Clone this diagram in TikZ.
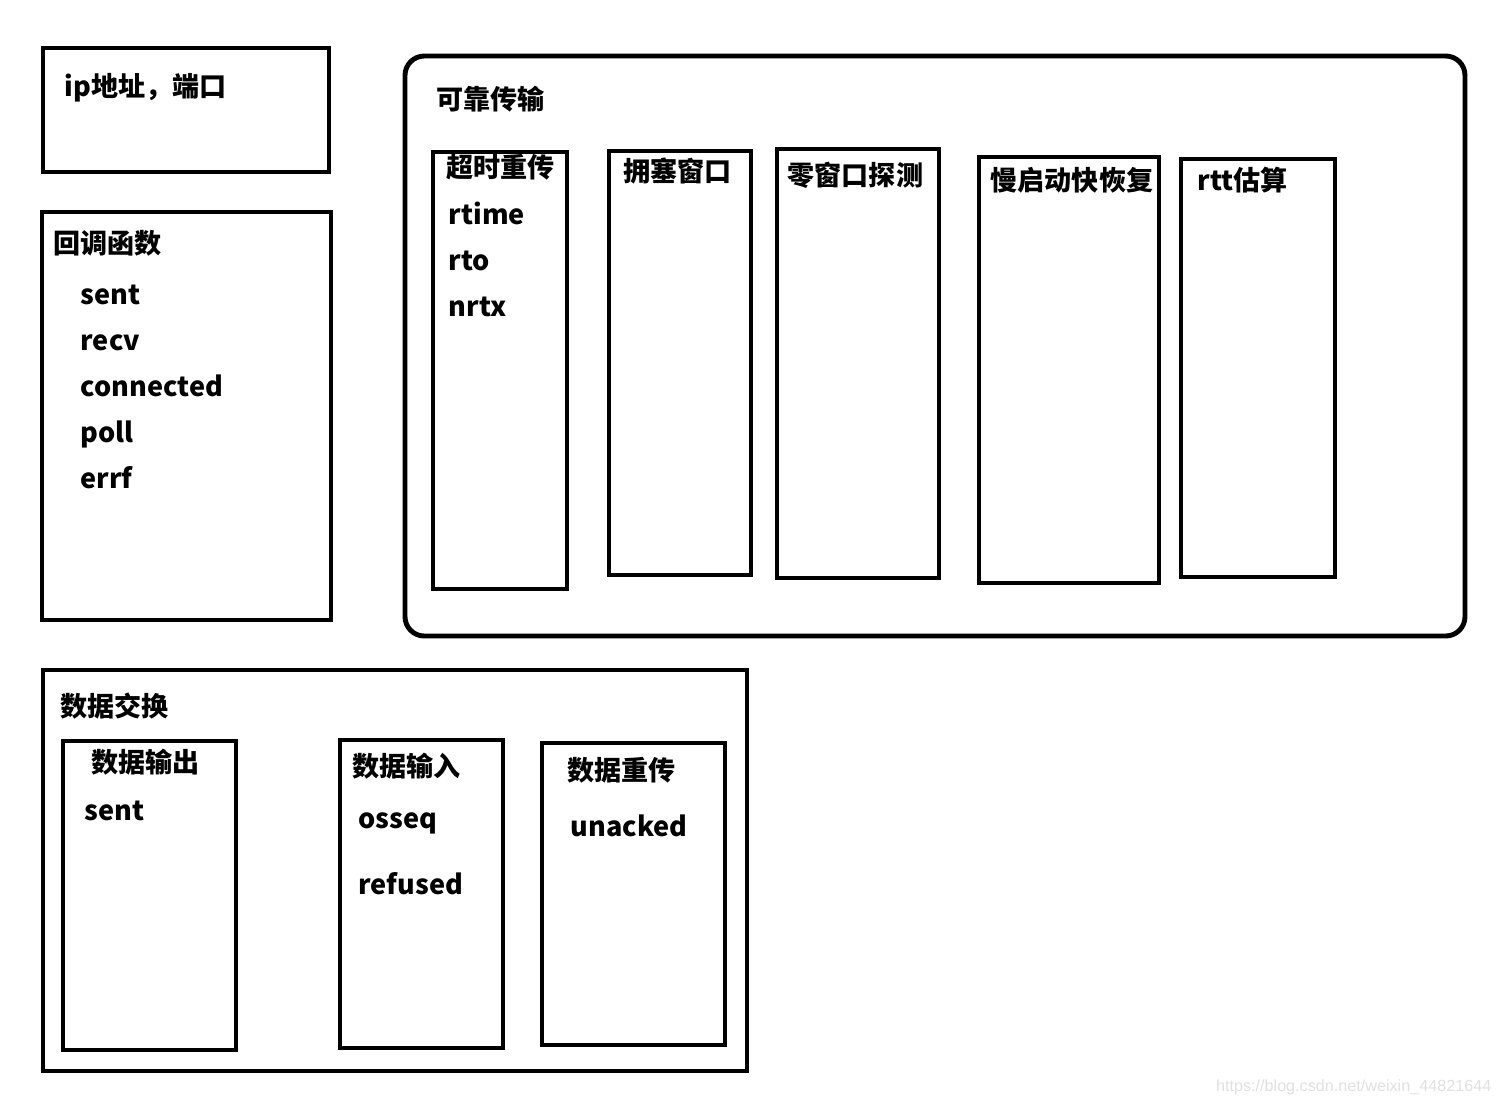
\documentclass[tikz,border=0pt]{standalone}
\usepackage{fontspec}
\setmainfont{Noto Sans CJK SC}
\newfontfamily\wmfont{Liberation Sans}
\begin{document}
\begin{tikzpicture}[x=0.01cm,y=-0.01cm,
    box/.style={draw, line width=1.4pt},
    txt/.style={anchor=west, inner sep=0pt, text height=0.8em, text depth=0.2em,
        font=\fontsize{7.7}{9}\selectfont\bfseries}]
        \useasboundingbox (0,0) rectangle (1502,1105);
        % left boxes
        \draw[box] (43,48) rectangle (329,172);
        \node[txt] (addr) at (64,86) {ip地址，端口};
        \draw[box] (42,212) rectangle (331,620);
        \node[txt] (cb) at (53,243) {回调函数};
        \foreach \y/\name in {294/sent,340/recv,386/connected,432/poll,478/errf}
        {
            \node[txt] (cb-\name) at (80,\y) {\name};
        }
        % reliable transport
        \draw[box, rounded corners=5.5pt] (405,56) rectangle (1465,636);
        \node[txt] (rel) at (436,99) {可靠传输};
        \draw[box] (433,152) rectangle (567,589);
        \node[txt] (rto-title) at (446,167) {超时重传};
        \foreach \y/\name in {214/rtime,260/rto,306/nrtx}
        {
            \node[txt] (rt-\name) at (448,\y) {\name};
        }
        \draw[box] (609,151) rectangle (751,575);
        \node[txt] (cwnd) at (623,171) {拥塞窗口};
        \draw[box] (777,149) rectangle (939,578);
        \node[txt] (probe) at (787,175) {零窗口探测};
        \draw[box] (979,157) rectangle (1159,583);
        \node[txt] (slow) at (990,180) {慢启动快恢复};
        \draw[box] (1181,159) rectangle (1335,577);
        \node[txt] (rtt) at (1197,180) {rtt估算};
        % data exchange
        \draw[box] (43,670) rectangle (747,1071);
        \node[txt] (xchg) at (60,706) {数据交换};
        \draw[box] (63,741) rectangle (236,1050);
        \node[txt] (out) at (91,762) {数据输出};
        \node[txt] (out-sent) at (84,810) {sent};
        \draw[box] (340,740) rectangle (503,1048);
        \node[txt] (in) at (352,766) {数据输入};
        \node[txt] (in-osseq) at (358,818) {osseq};
        \node[txt] (in-refused) at (358,884) {refused};
        \draw[box] (542,743) rectangle (725,1045);
        \node[txt] (resend) at (567,770) {数据重传};
        \node[txt] (unacked) at (570,826) {unacked};
        % watermark
        \node[anchor=east, inner sep=0pt, text=black!12, font=\wmfont\fontsize{4.6}{5}\selectfont] (wm) at (1492,1087) {https://blog.csdn.net/weixin\_44821644};
    \end{tikzpicture}
\end{document}
